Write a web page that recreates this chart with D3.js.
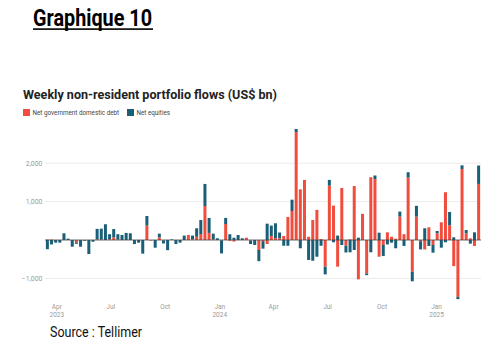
<!DOCTYPE html>
<html><head><meta charset="utf-8">
<script src="https://cdn.jsdelivr.net/npm/d3@7"></script>
<style>body{margin:0;background:#fff;} svg{display:block;}</style>
</head><body>
<script>
// ---- data ----
const startWeek = "2023-03-16";
const debt = [10,10,0,0,0,0,0,-60,0,0,0,0,15,10,0,20,70,10,0,0,
  0,0,0,0,375,-15,0,70,-10,0,0,0,0,0,130,20,85,155,885,185,
  10,0,-10,415,-20,-40,0,0,60,-15,0,-260,-30,-105,105,50,45,105,600,755,
  2810,1320,1565,85,520,785,25,-695,1415,895,-695,1355,-150,15,1405,-1025,680,-870,1635,1585,
  -435,-130,200,85,35,610,150,1625,-825,610,-30,-245,330,-130,175,460,1245,385,-680,-1480,
  1850,175,45,-155,1460];
const equities = [-240,-115,-70,-70,175,35,-175,-40,-175,-20,-365,-45,275,285,410,130,215,140,130,185,
  175,-105,-70,-355,250,0,-200,95,-80,-265,15,-105,-70,115,0,95,220,365,575,390,
  155,45,-340,160,150,60,130,45,0,-90,-130,-290,-195,425,270,385,150,-150,-150,295,
  80,-215,0,-520,-540,-435,-150,-200,150,-60,115,-130,-175,-320,-260,60,0,-45,-320,95,
  190,-285,-115,-70,-215,130,-155,140,-250,280,-215,305,-155,-200,60,-200,-60,345,70,-60,
  95,85,-95,200,480];
const seriesKeys = ["debt", "equities"];
const seriesNames = ["Net government domestic debt", "Net equities"];
const seriesColors = ["#f14d3e", "#1a5f78"];
const yTicks = [-1000, 1000, 2000];
const yTickLabels = ["\u22121,000", "1,000", "2,000"];
const xTickDates = ["2023-04-01","2023-07-01","2023-10-01","2024-01-01","2024-04-01","2024-07-01","2024-10-01","2025-01-01"];
const xTickLabels = [["Apr","2023"],["Jul"],["Oct"],["Jan","2024"],["Apr"],["Jul"],["Oct"],["Jan","2025"]];

// ---- layout ----
const W = 490, H = 348;
const svg = d3.select("body").append("svg").attr("width", W).attr("height", H);
const parse = d3.utcParse("%Y-%m-%d");
const rows = debt.map((v, i) => ({date: d3.utcDay.offset(parse(startWeek), 7 * i), debt: v, equities: equities[i]}));

const x = d3.scaleUtc().domain([parse("2023-03-12"), parse("2025-03-17")]).range([45, 481]);
const y = d3.scaleLinear().domain([-1600, 3000]).range([301.44, 124.8]);

// heading
svg.append("text").attr("x", 33).attr("y", 26)
  .attr("font-family", "Roboto").attr("font-weight", 700).attr("font-size", 23)
  .attr("textLength", 119).attr("lengthAdjust", "spacingAndGlyphs")
  .attr("fill", "#000").text("Graphique 10");
svg.append("rect").attr("x", 33).attr("y", 28.3).attr("width", 120).attr("height", 1.6).attr("fill", "#000");

// chart title
svg.append("text").attr("x", 23).attr("y", 98.5)
  .attr("font-family", "Roboto").attr("font-weight", 700).attr("font-size", 12.5)
  .attr("textLength", 254).attr("lengthAdjust", "spacingAndGlyphs")
  .attr("fill", "#222").text("Weekly non-resident portfolio flows (US$ bn)");

// legend
const legX = [23, 127];
seriesNames.forEach((n, i) => {
  svg.append("rect").attr("x", legX[i]).attr("y", 109).attr("width", 7).attr("height", 7).attr("fill", seriesColors[i]);
  svg.append("text").attr("x", legX[i] + 9.5).attr("y", 114.8)
    .attr("font-family", "Roboto").attr("font-size", 6.3).attr("fill", "#444").text(n);
});

// gridlines
svg.append("g").selectAll("line").data(yTicks).join("line")
  .attr("x1", 45).attr("x2", 481).attr("y1", d => y(d)).attr("y2", d => y(d))
  .attr("stroke", "#e6e6e6").attr("stroke-width", 0.8);
svg.append("g").selectAll("text").data(yTicks).join("text")
  .attr("x", 42.3).attr("y", d => y(d)).attr("dy", "0.35em").attr("text-anchor", "end")
  .attr("font-family", "Roboto").attr("font-size", 6.8).attr("fill", "#9a9a9a")
  .text((d, i) => yTickLabels[i]);

// bars
const stack = d3.stack().keys(seriesKeys).offset(d3.stackOffsetDiverging)(rows);
svg.append("g").selectAll("g").data(stack).join("g")
  .attr("fill", (d, i) => seriesColors[i])
  .selectAll("rect").data(d => d).join("rect")
  .attr("x", d => x(d.data.date) - 1.5).attr("width", 3)
  .attr("y", d => y(Math.max(d[0], d[1])))
  .attr("height", d => Math.abs(y(d[0]) - y(d[1])));

// zero line
svg.append("line").attr("x1", 45).attr("x2", 481).attr("y1", y(0)).attr("y2", y(0))
  .attr("stroke", "#444").attr("stroke-width", 0.8);

// x labels
const xl = svg.append("g");
xTickDates.forEach((d, i) => {
  xTickLabels[i].forEach((t, j) => {
    xl.append("text").attr("x", x(parse(d))).attr("y", 309.3 + j * 8)
      .attr("text-anchor", "middle").attr("font-family", "Roboto").attr("font-size", 6.5)
      .attr("fill", "#9a9a9a").text(t);
  });
});

// source
svg.append("text").attr("x", 50).attr("y", 337.3)
  .attr("font-family", "Roboto").attr("font-size", 15.5)
  .attr("textLength", 92).attr("lengthAdjust", "spacingAndGlyphs")
  .attr("fill", "#111").text("Source : Tellimer");
</script>
</body></html>
